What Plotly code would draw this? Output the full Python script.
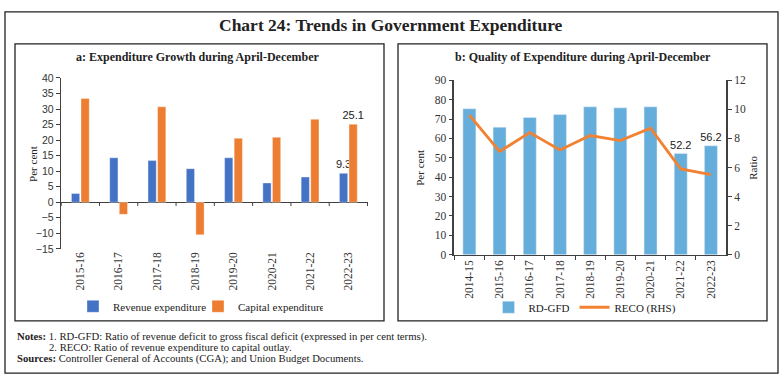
import plotly.graph_objects as go

# ---------------- data ----------------
years_a = ["2015-16", "2016-17", "2017-18", "2018-19", "2019-20", "2020-21", "2021-22", "2022-23"]
revenue_exp = [2.8, 14.3, 13.4, 10.8, 14.3, 6.2, 8.1, 9.3]
capital_exp = [33.4, -3.9, 30.7, -10.5, 20.6, 20.9, 26.7, 25.1]

years_b = ["2014-15", "2015-16", "2016-17", "2017-18", "2018-19", "2019-20", "2020-21", "2021-22", "2022-23"]
rd_gfd = [75.3, 65.8, 70.8, 72.3, 76.3, 75.8, 76.3, 52.2, 56.2]
reco = [9.6, 7.1, 8.4, 7.2, 8.2, 7.85, 8.7, 5.9, 5.5]

ticks_a = list(range(-15, 41, 5))
ticks_b_left = list(range(0, 91, 10))
ticks_b_right = list(range(0, 13, 2))

# ---------------- styling ----------------
W, H = 782, 383
SERIF = "Liberation Serif"
SANS = "Liberation Sans"
AX = "#404040"
BLUE = "#4472C4"
ORANGE = "#ED7D31"
LBLUE = "#65AEDB"
LORANGE = "#F28132"


def px(x):
    return x / W


def py(y):
    return 1 - y / H


def label_last(vals, n=1):
    return [""] * (len(vals) - n) + ["{:.1f}".format(v) for v in vals[-n:]]


lblfont = dict(family=SANS, size=11, color="#222")

fig = go.Figure()

# Panel a
fig.add_trace(go.Bar(
    x=years_a, y=revenue_exp, name="Revenue expenditure",
    marker=dict(color=BLUE, line=dict(color="rgba(255,255,255,0.6)", width=0.6)),
    text=label_last(revenue_exp), textposition="outside", constraintext="none",
    textfont=lblfont, cliponaxis=False, xaxis="x", yaxis="y", legend="legend",
))
fig.add_trace(go.Bar(
    x=years_a, y=capital_exp, name="Capital expenditure",
    marker=dict(color=ORANGE, line=dict(color="rgba(255,255,255,0.6)", width=0.6)),
    text=label_last(capital_exp), textposition="outside", constraintext="none",
    textfont=lblfont, cliponaxis=False, xaxis="x", yaxis="y", legend="legend",
))

# Panel b
fig.add_trace(go.Bar(
    x=years_b, y=rd_gfd, name="RD-GFD",
    marker=dict(color=LBLUE),
    text=label_last(rd_gfd, 2), textposition="outside", constraintext="none",
    textfont=lblfont, cliponaxis=False, xaxis="x2", yaxis="y2", legend="legend2",
))
fig.add_trace(go.Scatter(
    x=years_b, y=reco, name="RECO (RHS)", mode="lines",
    line=dict(color=LORANGE, width=2.8),
    xaxis="x2", yaxis="y3", legend="legend2",
))

# tick marks along the zero line for panel a (category boundaries)
shapes = []
for i in range(len(years_a) + 1):
    shapes.append(dict(type="line", xref="x", yref="y",
                       x0=i - 0.5, x1=i - 0.5, y0=0, y1=-1.2,
                       line=dict(color=AX, width=1)))

# frames
shapes += [
    dict(type="rect", xref="paper", yref="paper", x0=px(5), x1=px(778), y0=py(6), y1=py(379),
         line=dict(color="#222", width=1.3)),
    dict(type="rect", xref="paper", yref="paper", x0=px(15), x1=px(384), y0=py(39), y1=py(325),
         line=dict(color="#222", width=1.3)),
    dict(type="rect", xref="paper", yref="paper", x0=px(398), x1=px(767), y0=py(39), y1=py(325),
         line=dict(color="#222", width=1.3)),
]

sans_tick = dict(family=SANS, size=10.5, color="#333")
serif_tick = dict(family=SERIF, size=11.5, color="#333")


def ann(text, x, y, size, anchor="center", angle=0):
    return dict(text=text, x=px(x), y=py(y), textangle=angle,
                font=dict(family=SERIF, size=size, color="#222"), showarrow=False,
                xref="paper", yref="paper", xanchor=anchor, yanchor="middle")


annotations = [
    ann("<b>Chart 24: Trends in Government Expenditure</b>", 391, 20, 17.5),
    ann("<b>a: Expenditure Growth during April-December</b>", 198, 53, 12),
    ann("<b>b: Quality of Expenditure during April-December</b>", 583, 53, 12),
    ann("Per cent", 33, 163, 11, angle=-90),
    ann("Per cent", 420, 167, 11, angle=-90),
    ann("Ratio", 753, 167, 11, angle=-90),
    ann("<b>Notes:</b> 1. RD-GFD: Ratio of revenue deficit to gross fiscal deficit (expressed in per cent terms).",
        15, 341, 10.7, anchor="left"),
    ann("2. RECO: Ratio of revenue expenditure to capital outlay.", 47, 352.5, 10.7, anchor="left"),
    ann("<b>Sources:</b> Controller General of Accounts (CGA); and Union Budget Documents.",
        15, 364, 10.7, anchor="left"),
]

fig.update_layout(
    width=W, height=H,
    margin=dict(l=0, r=0, t=0, b=0),
    paper_bgcolor="white", plot_bgcolor="white",
    barmode="group", bargap=0.5, bargroupgap=0.14,
    showlegend=True,
    shapes=shapes,
    annotations=annotations,
    xaxis=dict(domain=[px(60.7), px(368)], type="category", showline=False, showgrid=False,
               ticks="", tickangle=-90, tickfont=serif_tick, anchor="y", zeroline=False),
    yaxis=dict(domain=[py(250.7), py(74.3)], range=[-15, 40], tickvals=ticks_a,
               showline=True, linecolor=AX, linewidth=1, ticks="outside", ticklen=4,
               tickcolor=AX, showgrid=False, zeroline=True, zerolinecolor=AX,
               zerolinewidth=1, tickfont=sans_tick, anchor="x"),
    xaxis2=dict(domain=[px(454.3), px(726)], type="category", showline=True, linecolor=AX,
                linewidth=1.2, ticks="outside", tickson="boundaries", ticklen=4, tickcolor=AX,
                showgrid=False, tickangle=-90, tickfont=serif_tick, anchor="y2"),
    yaxis2=dict(domain=[py(256.7), py(76.7)], range=[0, 90], tickvals=ticks_b_left,
                showline=True, linecolor=AX, linewidth=1.5, ticks="outside", ticklen=4,
                tickcolor=AX, showgrid=False, zeroline=False, tickfont=serif_tick, anchor="x2"),
    yaxis3=dict(domain=[py(256.7), py(76.7)], range=[0, 12], tickvals=ticks_b_right,
                overlaying="y2", side="right", anchor="x2",
                showline=True, linecolor=AX, linewidth=1.8, ticks="outside", ticklen=4,
                tickcolor=AX, showgrid=False, zeroline=False, tickfont=serif_tick),
    legend=dict(orientation="h", x=px(198), y=py(310), xanchor="center", yanchor="middle",
                font=dict(family=SERIF, size=11, color="#222"), bgcolor="rgba(0,0,0,0)",
                itemwidth=30, tracegroupgap=0, entrywidth=80),
    legend2=dict(orientation="h", x=px(585), y=py(311), xanchor="center", yanchor="middle",
                 font=dict(family=SERIF, size=11, color="#222"), bgcolor="rgba(0,0,0,0)",
                 itemwidth=30, tracegroupgap=0),
)

fig.write_html("out.html", config={"displayModeBar": False},
               post_script="document.body.style.margin='0';")
